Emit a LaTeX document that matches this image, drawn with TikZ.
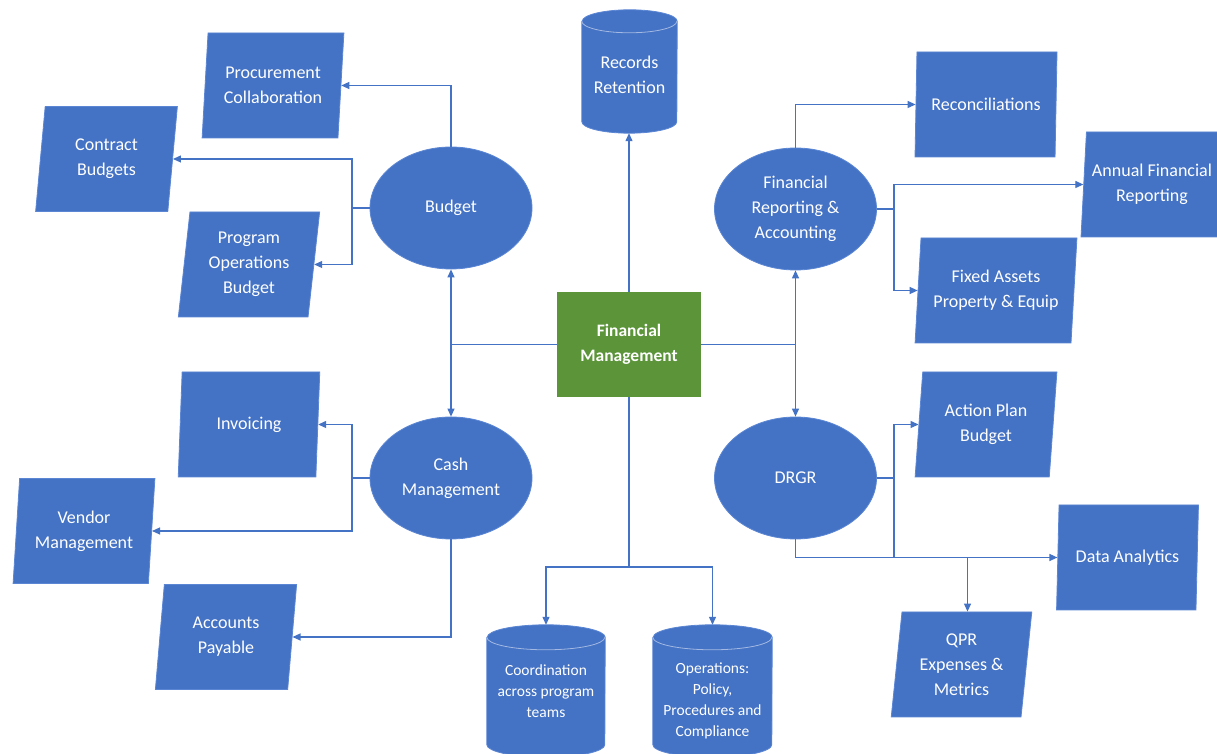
\documentclass[tikz,border=0pt]{standalone}
\usepackage{fontspec}
\setmainfont{Carlito}
\usetikzlibrary{shapes.geometric,arrows.meta}
\definecolor{fmblue}{HTML}{4472C4}
\definecolor{fmedge}{HTML}{5B86D4}
\definecolor{fmgreen}{HTML}{5B9439}
\definecolor{capline}{HTML}{A3B9E4}
\newcommand{\drawcyl}[3]{%
  \path[fill=fmblue,draw=fmedge,line width=0.8pt]
    ([yshift=-#3pt]#1.north west) -- ([yshift=#3pt]#1.south west)
    arc[start angle=180,end angle=360,x radius=#2pt,y radius=#3pt]
    -- ([yshift=-#3pt]#1.north east)
    arc[start angle=0,end angle=180,x radius=#2pt,y radius=#3pt] -- cycle;
  \draw[capline,line width=0.8pt] ([yshift=-#3pt]#1.north west)
    arc[start angle=180,end angle=360,x radius=#2pt,y radius=#3pt];
}
\begin{document}
\begin{tikzpicture}[x=1pt,y=1pt,
  para/.style={trapezium,trapezium left angle=83,trapezium right angle=97,
    trapezium stretches=true,minimum width=142pt,minimum height=105pt,inner sep=0pt,
    fill=fmblue,draw=fmedge,line width=0.8pt,text=white,align=center,
    font=\fontsize{18}{25}\selectfont},
  oval/.style={ellipse,minimum width=162pt,minimum height=122pt,inner sep=0pt,
    fill=fmblue,draw=fmedge,line width=0.8pt,text=white,align=center,
    font=\fontsize{18}{25}\selectfont},
  cylbox/.style={rectangle,inner sep=0pt},
  cyltext/.style={text=white,align=center,inner sep=0pt},
  conn/.style={draw=fmblue,line width=1.2pt},
  arr/.style={conn,-{Triangle[length=8pt,width=7pt]}}]
\useasboundingbox (0,0) rectangle (1217,754);
\fill[white] (0,0) rectangle (1217,754);

% centre box
\node[fill=fmgreen,minimum width=144pt,minimum height=105pt,inner sep=0pt,text=white,
  align=center,font=\fontsize{17.5}{25}\selectfont\bfseries] (fm) at (629,409.5) {Financial\\Management};

% cylinders
\node[cylbox,minimum width=95pt,minimum height=123pt] (rec) at (629.5,682.5) {};
\drawcyl{rec}{47.5}{11.5}
\node[cyltext,font=\fontsize{18}{25}\selectfont] (rectext) at (629.5,679.5) {Records\\Retention};

\node[cylbox,minimum width=118pt,minimum height=132pt] (coord) at (546,63) {};
\drawcyl{coord}{59}{12.5}
\node[cyltext,font=\fontsize{15.5}{21}\selectfont] (coordtext) at (546,63) {Coordination\\across program\\teams};

\node[cylbox,minimum width=119pt,minimum height=132pt] (ops) at (712.5,63) {};
\drawcyl{ops}{59.5}{12.5}
\node[cyltext,font=\fontsize{15.5}{21}\selectfont] (opstext) at (712.5,53) {Operations:\\Policy,\\Procedures and\\Compliance};

% ellipses
\node[oval] (budget) at (451,546) {Budget};
\node[oval] (cash) at (451,276) {Cash\\Management};
\node[oval] (finrep) at (795.5,545) {Financial\\Reporting \&\\Accounting};
\node[oval] (drgr) at (795.5,276) {DRGR};

% parallelograms
\node[para] (proc) at (273,668.5) {Procurement\\Collaboration};
\node[para] (contract) at (106.5,595) {Contract\\Budgets};
\node[para] (progops) at (249,489.5) {Program\\Operations\\Budget};
\node[para] (invoice) at (249,329.5) {Invoicing};
\node[para] (vendor) at (84,223) {Vendor\\Management};
\node[para] (payable) at (226,117) {Accounts\\Payable};
\node[para] (recon) at (986,649.5) {Reconciliations};
\node[para] (annual) at (1152,569.5) {Annual Financial\\Reporting};
\node[para,minimum width=162pt] (fixed) at (996,463.5) {Fixed Assets\\Property \& Equip};
\node[para] (action) at (986,329.5) {Action Plan\\Budget};
\node[para] (data) at (1127.5,196.5) {Data Analytics};
\node[para] (qpr) at (961.5,89.5) {QPR\\Expenses \&\\Metrics};

% junctions
\coordinate (bj) at (352,546);
\coordinate (cj) at (352,276);
\coordinate (fj) at (894,545);
\coordinate (dj) at (894,276);
\coordinate (fmj) at (629,187);
\coordinate (qtop) at ([xshift=6pt]qpr.north);

% connectors from centre
\draw[arr] (fm.west) -| (budget.south);
\draw[arr] (fm.west) -| (cash.north);
\draw[arr] (fm.east) -| (finrep.south);
\draw[arr] (fm.east) -| (drgr.north);
\draw[arr] (fm.north) -- (fm.north |- rec.south);
\draw[conn] (fm.south) -- (fmj);
\draw[arr] (fmj) -| (coord.north);
\draw[arr] (fmj) -| (ops.north);

% budget
\draw[arr] (budget.north) |- (proc);
\draw[conn] (budget.west) -- (bj);
\draw[arr] (bj) |- (contract);
\draw[arr] (bj) |- (progops);

% cash
\draw[conn] (cash.west) -- (cj);
\draw[arr] (cj) |- (invoice);
\draw[arr] (cj) |- (vendor);
\draw[arr] (cash.south) |- (payable);

% financial reporting
\draw[arr] (finrep.north) |- (recon);
\draw[conn] (finrep.east) -- (fj);
\draw[arr] (fj) |- (annual);
\draw[arr] (fj) |- (fixed);

% DRGR
\draw[conn] (drgr.east) -- (dj);
\draw[arr] (dj) |- (action);
\draw[conn] (dj) -- (dj |- data);
\draw[arr] (drgr.south) |- (data);
\draw[arr] (qtop |- data) -- (qtop);
\end{tikzpicture}
\end{document}
